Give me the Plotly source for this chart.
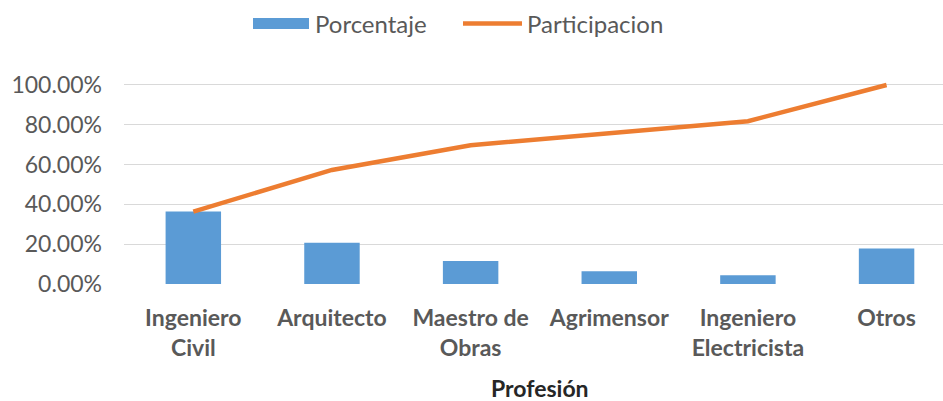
import plotly.graph_objects as go

categories = ["Ingeniero<br>Civil", "Arquitecto", "Maestro de<br>Obras", "Agrimensor",
              "Ingeniero<br>Electricista", "Otros"]
porcentaje = [0.364, 0.207, 0.115, 0.064, 0.044, 0.179]
participacion = [0.364, 0.573, 0.697, 0.758, 0.818, 1.00]
y_ticks = [0, 0.2, 0.4, 0.6, 0.8, 1.0]

W, H = 943, 401
BLUE = "#5B9BD5"
ORANGE = "#ED7D31"
GRAY = "#595959"
FONT = "Lato"

fig = go.Figure()
fig.add_trace(go.Bar(x=categories, y=porcentaje, name="Porcentaje",
                     marker=dict(color=BLUE, line=dict(width=0)), showlegend=False))
fig.add_trace(go.Scatter(x=categories, y=participacion, name="Participacion", mode="lines",
                         line=dict(color=ORANGE, width=4.5), showlegend=False))

def px(x):
    return x / W

def py(y):
    return 1 - y / H

# manual legend (Excel-style)
fig.add_shape(type="rect", xref="paper", yref="paper", x0=px(253), x1=px(309), y0=py(29), y1=py(18),
              fillcolor=BLUE, line=dict(width=0))
fig.add_shape(type="line", xref="paper", yref="paper", x0=px(463), x1=px(522), y0=py(23.5), y1=py(23.5),
              line=dict(color=ORANGE, width=4.5))
fig.add_annotation(xref="paper", yref="paper", x=px(313), y=py(23.5), text="Porcentaje",
                   showarrow=False, xanchor="left", yanchor="middle",
                   font=dict(family=FONT, size=24, color=GRAY))
fig.add_annotation(xref="paper", yref="paper", x=px(525), y=py(23.5), text="Participacion",
                   showarrow=False, xanchor="left", yanchor="middle",
                   font=dict(family=FONT, size=24, color=GRAY))
# axis title
fig.add_annotation(xref="paper", yref="paper", x=px(540), y=py(388), text="<b>Profesión</b>",
                   showarrow=False, xanchor="center", yanchor="middle",
                   font=dict(family=FONT, size=23, color="#262626"))

fig.update_layout(
    width=W, height=H,
    margin=dict(l=0, r=0, t=0, b=0),
    paper_bgcolor="white", plot_bgcolor="white",
    bargap=0.6,
    showlegend=False,
    font=dict(family=FONT, color=GRAY),
    xaxis=dict(domain=[124 / W, 1], range=[-0.5, 5.407], showgrid=False, zeroline=False,
               showline=False, ticks="", automargin=False, ticklabelstandoff=18,
               tickfont=dict(family=FONT, size=23, color=GRAY, weight="bold")),
    yaxis=dict(domain=[1 - 284 / H, 1 - 81 / H], range=[0, 1.02], tickvals=y_ticks,
               tickformat=".2%", showgrid=True, gridcolor="#D9D9D9", gridwidth=1,
               zeroline=False, showline=False, ticks="", automargin=False,
               ticklabelstandoff=21, tickfont=dict(family=FONT, size=23, color=GRAY)),
)

fig.write_html("out.html", config={"displayModeBar": False},
               post_script="document.body.style.margin='0';document.body.style.overflow='hidden';")
